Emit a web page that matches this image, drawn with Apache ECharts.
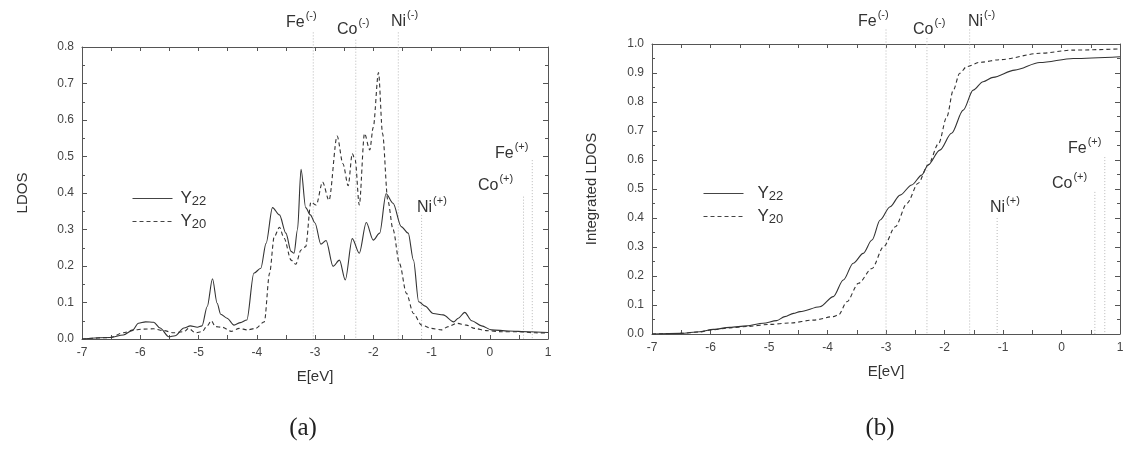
<!DOCTYPE html>
<html>
<head>
<meta charset="utf-8">
<script src="https://cdn.jsdelivr.net/npm/echarts@6/dist/echarts.min.js"></script>
<style>
  html, body { margin: 0; padding: 0; background: #fff; }
  #main { width: 1135px; height: 452px; }
</style>
</head>
<body>
<div id="main"></div>
<script>
// (a) LDOS
var eY22a = [-7, -6.52, -6.29, -6.14, -6.03, -5.91, -5.77, -5.66, -5.51, -5.40, -5.25, -5.14, -5.02, -4.94, -4.85, -4.76, -4.68, -4.62, -4.51, -4.39, -4.28, -4.17, -4.05, -3.93, -3.84, -3.73, -3.61, -3.50, -3.41, -3.36, -3.30, -3.24, -3.16, -3.08, -3.0, -2.9, -2.81, -2.69, -2.58, -2.48, -2.36, -2.24, -2.12, -2.0, -1.89, -1.78, -1.66, -1.52, -1.40, -1.31, -1.22, -1.11, -0.97, -0.80, -0.62, -0.54, -0.43, -0.31, -0.14, 0.03, 0.32, 0.66, 1.0];
var vY22a = [0, 0.004, 0.011, 0.023, 0.043, 0.047, 0.046, 0.03, 0.006, 0.009, 0.03, 0.036, 0.032, 0.036, 0.089, 0.165, 0.098, 0.068, 0.057, 0.038, 0.045, 0.052, 0.18, 0.194, 0.262, 0.36, 0.34, 0.29, 0.24, 0.235, 0.30, 0.465, 0.36, 0.34, 0.318, 0.26, 0.27, 0.199, 0.216, 0.162, 0.275, 0.235, 0.319, 0.271, 0.29, 0.398, 0.372, 0.308, 0.29, 0.216, 0.102, 0.09, 0.07, 0.066, 0.047, 0.057, 0.073, 0.05, 0.036, 0.025, 0.022, 0.02, 0.018];
var eY20a = [-7, -6.52, -6.29, -6.11, -5.94, -5.77, -5.60, -5.43, -5.25, -5.17, -5.05, -4.94, -4.85, -4.78, -4.71, -4.59, -4.44, -4.30, -4.16, -4.02, -3.87, -3.78, -3.70, -3.61, -3.53, -3.41, -3.33, -3.24, -3.16, -3.07, -2.98, -2.87, -2.76, -2.62, -2.52, -2.43, -2.36, -2.31, -2.24, -2.15, -2.06, -2.0, -1.91, -1.84, -1.75, -1.66, -1.55, -1.43, -1.31, -1.17, -1.0, -0.83, -0.71, -0.57, -0.40, -0.26, -0.06, 0.20, 0.49, 0.78, 1.0];
var vY20a = [0, 0.004, 0.017, 0.025, 0.027, 0.028, 0.023, 0.017, 0.02, 0.029, 0.017, 0.02, 0.036, 0.05, 0.034, 0.032, 0.021, 0.029, 0.025, 0.029, 0.047, 0.18, 0.28, 0.306, 0.276, 0.216, 0.205, 0.244, 0.253, 0.375, 0.367, 0.43, 0.38, 0.556, 0.48, 0.42, 0.508, 0.49, 0.367, 0.563, 0.518, 0.58, 0.73, 0.563, 0.38, 0.30, 0.207, 0.125, 0.07, 0.038, 0.029, 0.025, 0.034, 0.043, 0.038, 0.029, 0.023, 0.02, 0.02, 0.017, 0.016];

// (b) Integrated LDOS
var eY22b = [-7, -6.52, -6.18, -5.95, -5.67, -5.38, -5.10, -4.87, -4.73, -4.58, -4.47, -4.13, -3.90, -3.73, -3.56, -3.39, -3.24, -3.10, -2.93, -2.76, -2.56, -2.39, -2.28, -2.08, -1.88, -1.68, -1.51, -1.34, -1.17, -0.80, -0.37, 0.20, 1.0];
var vY22b = [0, 0.002, 0.008, 0.016, 0.023, 0.028, 0.037, 0.046, 0.06, 0.071, 0.077, 0.094, 0.129, 0.186, 0.244, 0.278, 0.324, 0.393, 0.439, 0.479, 0.514, 0.548, 0.583, 0.634, 0.692, 0.772, 0.841, 0.87, 0.885, 0.91, 0.936, 0.95, 0.956];
var eY20b = [-7, -6.5, -6.2, -5.95, -5.67, -5.38, -5.0, -4.64, -4.24, -3.90, -3.81, -3.67, -3.47, -3.24, -3.04, -2.84, -2.64, -2.45, -2.28, -2.10, -1.96, -1.85, -1.74, -1.62, -1.39, -1.05, -0.37, 0.20, 1.0];
var vY20b = [0, 0.002, 0.007, 0.015, 0.021, 0.026, 0.033, 0.038, 0.048, 0.06, 0.066, 0.111, 0.175, 0.226, 0.301, 0.37, 0.451, 0.52, 0.583, 0.657, 0.749, 0.841, 0.899, 0.922, 0.937, 0.946, 0.968, 0.979, 0.983];

// level markers: energy, and the value where the dotted line starts
var levelE_a = [-3.03, -2.3, -1.57, -1.17, 0.58, 0.73];
var levelTop_a = [0.84, 0.82, 0.84, 0.34, 0.39, 0.49];
var levelE_b = [-3.0, -2.3, -1.57, -1.1, 0.57, 0.74];
var levelTop_b = [1.05, 1.02, 1.05, 0.40, 0.49, 0.61];

var xTicks = { min: -7, max: 1, interval: 1 };

function pairs(xs, ys) {
    return xs.map(function (x, i) { return [x, ys[i]]; });
}

var chart = echarts.init(document.getElementById('main'));
var FONT = 'Liberation Sans';
var AX = '#555', TXT = '#444', LINE = '#333';

function xAxes(grid) {
    var base = {
        type: 'value', gridIndex: grid, min: xTicks.min, max: xTicks.max, interval: xTicks.interval,
        axisLine: { show: true, onZero: false, lineStyle: { color: AX, width: 1 } },
        axisTick: { show: true, inside: true, length: 4, lineStyle: { color: AX, width: 1 } },
        minorTick: { show: true, splitNumber: 2, length: 4, lineStyle: { color: AX, width: 1 } },
        splitLine: { show: false }
    };
    var bottom = echarts.util.merge({
        position: 'bottom',
        name: 'E[eV]', nameLocation: 'middle', nameGap: 30,
        nameTextStyle: { fontFamily: FONT, fontSize: 15, color: '#333' },
        axisLabel: { fontFamily: FONT, fontSize: 12, color: TXT, margin: 8 }
    }, base, true);
    var top = echarts.util.merge({ position: 'top', axisLabel: { show: false } }, base, true);
    return [bottom, top];
}

function yAxes(grid, max, name, gap) {
    var base = {
        type: 'value', gridIndex: grid, min: 0, max: max, interval: 0.1,
        axisLine: { show: true, onZero: false, lineStyle: { color: AX, width: 1 } },
        axisTick: { show: true, inside: true, length: 5, lineStyle: { color: AX, width: 1 } },
        minorTick: { show: true, splitNumber: 2, length: 3, lineStyle: { color: AX, width: 1 } },
        splitLine: { show: false }
    };
    var left = echarts.util.merge({
        position: 'left',
        name: name, nameLocation: 'middle', nameGap: gap, nameRotate: 90,
        nameTextStyle: { fontFamily: FONT, fontSize: 15, color: '#333' },
        axisLabel: { fontFamily: FONT, fontSize: 12, color: TXT, margin: 8,
            formatter: function (v) { return v.toFixed(1); } }
    }, base, true);
    var right = echarts.util.merge({ position: 'right', axisLabel: { show: false } }, base, true);
    return [left, right];
}

function curve(name, data, xi, yi, dashed) {
    return {
        name: name, type: 'line', data: data, xAxisIndex: xi, yAxisIndex: yi,
        showSymbol: false, symbol: 'none', smooth: 0.3, smoothMonotone: 'x',
        lineStyle: { color: LINE, width: 1.1, type: dashed ? [4, 3] : 'solid' },
        itemStyle: { color: LINE },
        z: 3
    };
}

function levels(es, tops, xi, yi) {
    return {
        type: 'custom', xAxisIndex: xi, yAxisIndex: yi, silent: true, z: 1,
        data: pairs(es, tops),
        renderItem: function (params, api) {
            var p0 = api.coord([api.value(0), api.value(1)]);
            var p1 = api.coord([api.value(0), 0]);
            return {
                type: 'line',
                shape: { x1: p0[0], y1: p0[1], x2: p1[0], y2: p1[1] },
                style: { stroke: '#b8b8b8', lineWidth: 1, lineDash: [1, 2] }
            };
        }
    };
}

function legendAt(left, top, textPad) {
    return {
        orient: 'vertical', left: left, top: top,
        data: ['Y22', 'Y20'],
        itemWidth: 40, itemHeight: 12, itemGap: 5,
        itemStyle: { opacity: 0 },
        lineStyle: { width: 1, color: '#444' },
        textStyle: {
            fontFamily: FONT, color: '#333', fontSize: 17,
            rich: {
                a: { fontFamily: FONT, fontSize: 17, color: '#333', padding: [0, 0, 0, textPad] },
                b: { fontFamily: FONT, fontSize: 13, color: '#333', padding: [6, 0, 0, 0] }
            }
        },
        formatter: function (n) { return '{a|Y}{b|' + n.slice(1) + '}'; },
        selectedMode: false
    };
}

function label(x, y, base, sup) {
    return {
        type: 'text', x: x, y: y, silent: true,
        style: {
            text: '{m|' + base + '}{s|' + sup + '}',
            verticalAlign: 'middle',
            rich: {
                m: { fontFamily: FONT, fontSize: 16, fill: '#333', lineHeight: 22, verticalAlign: 'bottom' },
                s: { fontFamily: FONT, fontSize: 11, fill: '#333', lineHeight: 22, verticalAlign: 'top', padding: [1, 0, 0, 1] }
            }
        }
    };
}

var xa = xAxes(0), xb = xAxes(1);
var ya = yAxes(0, 0.8, 'LDOS', 52), yb = yAxes(1, 1.0, 'Integrated LDOS', 53);

chart.setOption({
    animation: false,
    backgroundColor: '#fff',
    grid: [
        { left: 82, right: 587, top: 47, bottom: 113 },
        { left: 652, right: 15, top: 44, bottom: 118 }
    ],
    xAxis: [xa[0], xa[1], xb[0], xb[1]],
    yAxis: [ya[0], ya[1], yb[0], yb[1]],
    legend: [legendAt(127, 185, 3), legendAt(698, 180, 9)],
    series: [
        levels(levelE_a, levelTop_a, 0, 0),
        levels(levelE_b, levelTop_b, 2, 2),
        curve('Y22', pairs(eY22a, vY22a), 0, 0, false),
        curve('Y20', pairs(eY20a, vY20a), 0, 0, true),
        curve('Y22', pairs(eY22b, vY22b), 2, 2, false),
        curve('Y20', pairs(eY20b, vY20b), 2, 2, true)
    ],
    graphic: [
        label(286, 20, 'Fe', '(-)'),
        label(337, 27, 'Co', '(-)'),
        label(391, 19, 'Ni', '(-)'),
        label(495, 151, 'Fe', '(+)'),
        label(478, 183, 'Co', '(+)'),
        label(417, 205, 'Ni', '(+)'),
        label(858, 19, 'Fe', '(-)'),
        label(913, 27, 'Co', '(-)'),
        label(968, 19, 'Ni', '(-)'),
        label(1068, 146, 'Fe', '(+)'),
        label(1052, 181, 'Co', '(+)'),
        label(990, 205, 'Ni', '(+)'),
        { type: 'text', x: 303, y: 428, silent: true,
          style: { text: '(a)', fontFamily: 'Liberation Serif', fontSize: 25, fill: '#222', align: 'center', verticalAlign: 'middle' } },
        { type: 'text', x: 880, y: 428, silent: true,
          style: { text: '(b)', fontFamily: 'Liberation Serif', fontSize: 25, fill: '#222', align: 'center', verticalAlign: 'middle' } }
    ]
});
</script>
</body>
</html>
